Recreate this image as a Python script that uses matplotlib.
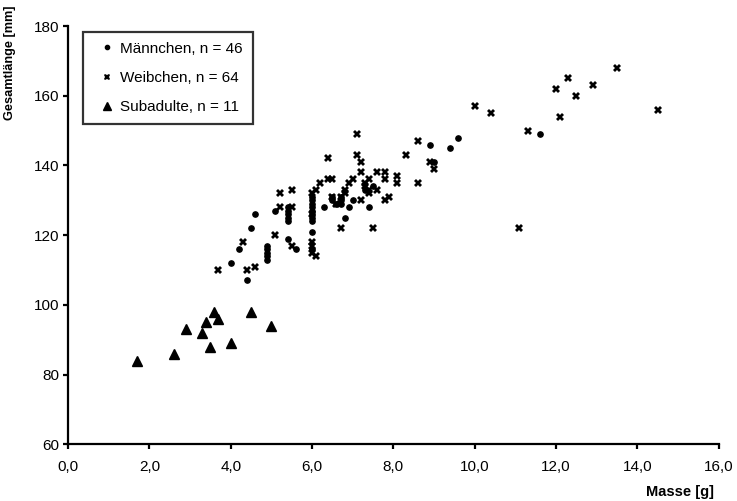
import matplotlib.pyplot as plt
from matplotlib.ticker import FuncFormatter

plt.rcParams["font.family"] = ["Liberation Sans", "DejaVu Sans"]

# Männchen (mass g, total length mm)
male_mass = [4.0, 4.2, 4.4, 4.5, 4.6, 4.9, 4.9, 4.9, 4.9, 5.1, 5.4, 5.4, 5.4, 5.4, 5.4,
             5.6, 6.0, 6.0, 6.0, 6.0, 6.0, 6.0, 6.0, 6.0, 6.3, 6.5, 6.6, 6.7, 6.7, 6.8,
             6.9, 7.4, 8.9, 9.0, 9.4, 9.6, 11.6, 6.0, 6.5, 6.7, 7.3, 7.5, 5.4, 6.0, 4.9, 7.0]
male_len = [112, 116, 107, 122, 126, 116, 115, 114, 113, 127, 127, 126, 125, 124, 119,
            116, 131, 130, 129, 128, 125, 124, 121, 116, 128, 130, 129, 130, 129, 125,
            128, 128, 146, 141, 145, 148, 149, 127, 131, 131, 133, 134, 128, 126, 117, 130]

# Weibchen
female_mass = [3.7, 4.3, 4.4, 4.6, 5.1, 5.2, 5.2, 5.5, 5.5, 5.5, 6.0, 6.0, 6.0, 6.0, 6.0,
               6.1, 6.1, 6.2, 6.4, 6.4, 6.5, 6.5, 6.6, 6.7, 6.8, 6.8, 6.9, 7.0, 7.1, 7.1,
               7.2, 7.2, 7.2, 7.3, 7.3, 7.4, 7.4, 7.4, 7.5, 7.6, 7.6, 7.8, 7.8, 7.8, 7.9,
               8.1, 8.1, 8.3, 8.6, 8.6, 8.9, 9.0, 10.0, 10.4, 11.1, 11.3, 12.0, 12.1, 12.3,
               12.5, 12.9, 13.5, 14.5, 6.7]
female_len = [110, 118, 110, 111, 120, 132, 128, 133, 128, 117, 132, 126, 118, 117, 115,
              114, 133, 135, 142, 136, 136, 131, 129, 122, 133, 132, 135, 136, 149, 143,
              141, 138, 130, 135, 134, 136, 133, 132, 122, 138, 133, 138, 136, 130, 131,
              137, 135, 143, 147, 135, 141, 139, 157, 155, 122, 150, 162, 154, 165,
              160, 163, 168, 156, 131]

# Subadulte
sub_mass = [1.7, 2.6, 2.9, 3.3, 3.4, 3.5, 3.6, 3.7, 4.0, 4.5, 5.0]
sub_len = [84, 86, 93, 92, 95, 88, 98, 96, 89, 98, 94]

fig = plt.figure(figsize=(7.37, 5.01), dpi=100)
ax = fig.add_axes([0.0923, 0.1132, 0.8829, 0.8349])

ax.plot(male_mass, male_len, linestyle="none", marker="o", markersize=3.8,
        color="black", label="Männchen, n = 46")
ax.plot(female_mass, female_len, linestyle="none", marker="X", markersize=6,
        color="black", markeredgewidth=0, label="Weibchen, n = 64")
ax.plot(sub_mass, sub_len, linestyle="none", marker="^", markersize=7,
        color="black", label="Subadulte, n = 11")

ax.set_xlim(0, 16)
ax.set_ylim(60, 180)
ax.set_xticks(range(0, 17, 2))
ax.set_yticks(range(60, 181, 20))
ax.xaxis.set_major_formatter(FuncFormatter(lambda v, p: f"{v:.1f}".replace(".", ",")))

for spine in ("top", "right"):
    ax.spines[spine].set_visible(False)
for spine in ("left", "bottom"):
    ax.spines[spine].set_linewidth(1.6)

ax.tick_params(axis="both", direction="out", length=3.5, width=1.6,
               labelsize=11, colors="black")
ax.tick_params(axis="x", pad=8)
ax.tick_params(axis="y", pad=3)

fig.text(0.969, 0.004, "Masse [g]", ha="right", va="bottom",
         fontsize=10.5, fontweight="bold")
fig.text(0.006, 0.99, "Gesamtlänge [mm]", ha="left", va="top", rotation=90,
         fontsize=9.2, fontweight="bold")

leg = ax.legend(loc="upper left", bbox_to_anchor=(0.023, 0.986), borderaxespad=0,
                frameon=True, fancybox=False, fontsize=11, handlelength=1.8,
                handletextpad=0.0, labelspacing=1.0, borderpad=0.65, markerscale=0.8)
leg.get_frame().set_edgecolor("black")
leg.get_frame().set_linewidth(1.6)

fig.savefig("out.png", dpi=100, facecolor="white")
